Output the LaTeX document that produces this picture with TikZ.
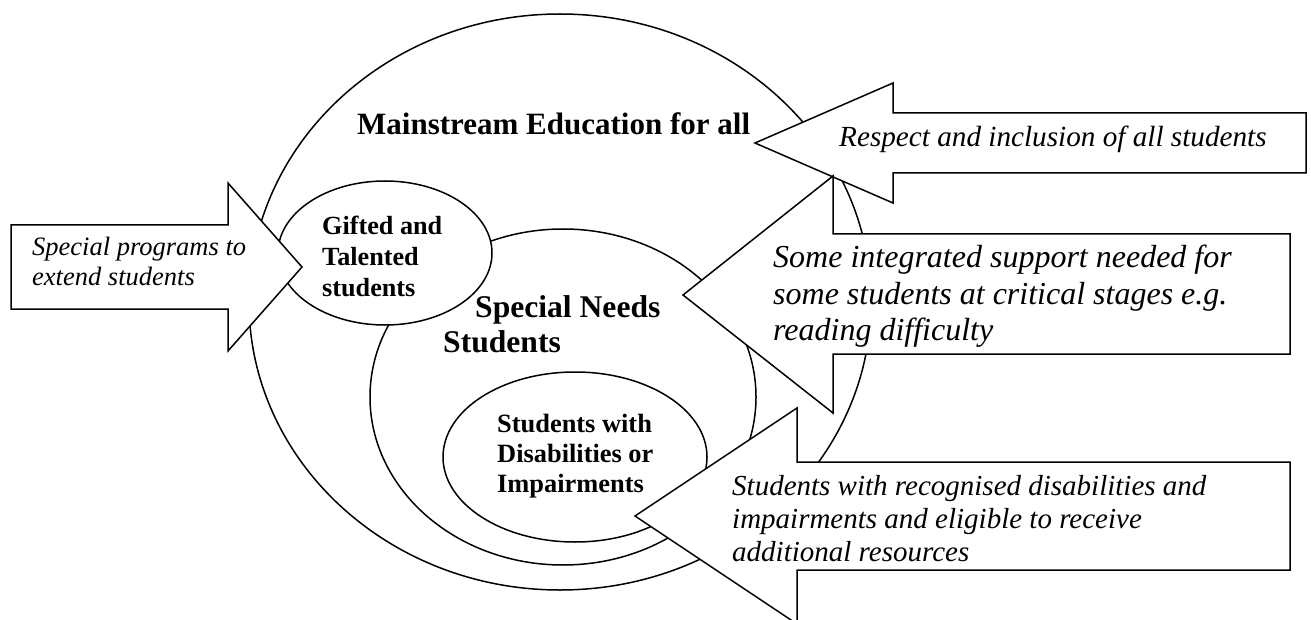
\documentclass[tikz,border=0pt]{standalone}
\usepackage{fontspec}
\setmainfont{Liberation Serif}
\newcommand\mylines[1]{\begin{tabular}[t]{@{}l@{}}#1\end{tabular}}
\begin{document}
\begin{tikzpicture}[x=1pt,y=-1pt,
  outl/.style={draw=black, line width=1.5pt, fill=white, line join=miter},
  lbl/.style={inner sep=0pt, anchor=base west},
  ital/.style={font=\fontsize{#1}{1.15*#1}\selectfont\itshape},
  bold/.style={font=\fontsize{#1}{1.15*#1}\selectfont\bfseries}]
\useasboundingbox (0,0) rectangle (1311,620);
\clip (0,0) rectangle (1311,620);
\fill[white] (0,0) rectangle (1311,620);
% circles / ellipses
\draw[outl] (560,302) ellipse [x radius=311, y radius=288];
\draw[outl] (563,397) ellipse [x radius=193, y radius=168];
\draw[outl] (575,457) ellipse [x radius=132, y radius=85];
\draw[outl] (385,253) ellipse [x radius=107, y radius=72];
% block arrows
\coordinate (progtip) at (302,267);
\draw[outl] (11,225) -- (228,225) -- (228,183) -- (progtip) -- (228,351) -- (228,309) -- (11,309) -- cycle;
\coordinate (resptip) at (755,143);
\draw[outl] (1306,113) -- (893,113) -- (893,83) -- (resptip) -- (893,203) -- (893,173) -- (1306,173) -- cycle;
\coordinate (sometip) at (683,295);
\draw[outl] (1290,234) -- (833,234) -- (833,176) -- (sometip) -- (833,413) -- (833,354) -- (1290,354) -- cycle;
\coordinate (rectip) at (635,516);
\draw[outl] (1290,462) -- (797,462) -- (797,408) -- (rectip) -- (797,624) -- (797,570) -- (1290,570) -- cycle;
% texts
\node[lbl, font=\fontsize{31}{35.6}\selectfont\bfseries] (main) at (357,135) {Mainstream Education for all};
\node[lbl, font=\fontsize{26.2}{31}\selectfont\bfseries] (gift) at (322,235) {\mylines{Gifted and\\Talented\\students}};
\node[lbl, font=\fontsize{31.6}{35}\selectfont\bfseries] (sn) at (443,317) {\mylines{\hspace*{32pt}Special Needs\\Students}};
\node[lbl, font=\fontsize{26.4}{30}\selectfont\bfseries] (dis) at (497,432) {\mylines{Students with\\Disabilities or\\Impairments}};
\node[lbl, font=\fontsize{26.5}{30}\selectfont\itshape] (prog) at (32,255) {\mylines{Special programs to\\extend students}};
\node[lbl, font=\fontsize{29.2}{33.6}\selectfont\itshape] (resp) at (839,147) {Respect and inclusion of all students};
\node[lbl, font=\fontsize{32}{36.5}\selectfont\itshape] (some) at (773,268) {\mylines{Some integrated support needed for\\some students at critical stages e.g.\\reading difficulty}};
\node[lbl, font=\fontsize{29}{33.3}\selectfont\itshape] (rec) at (732,495) {\mylines{Students with recognised disabilities and\\impairments and eligible to receive\\additional resources}};
\end{tikzpicture}
\end{document}
